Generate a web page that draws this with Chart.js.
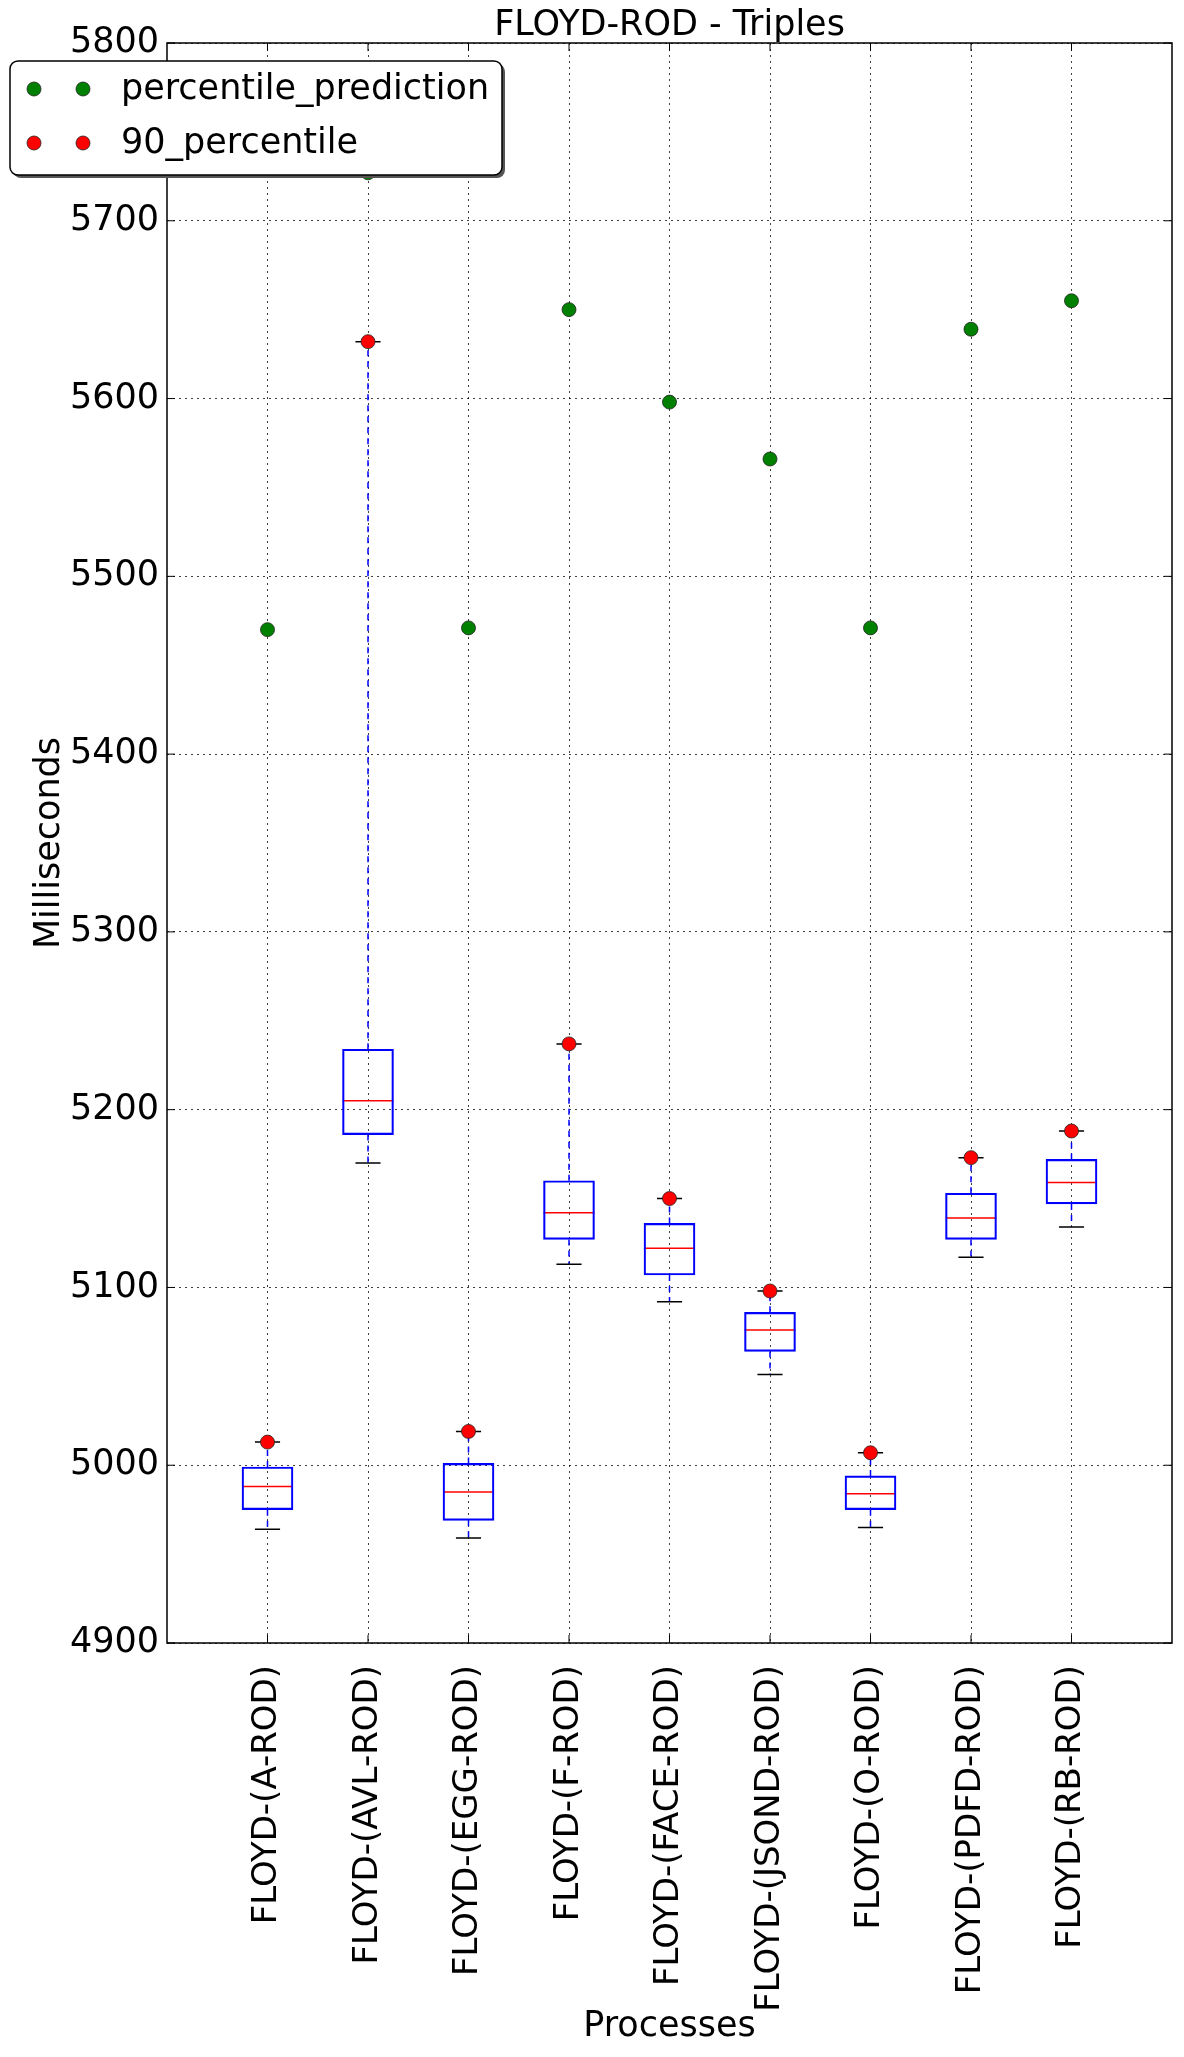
<!DOCTYPE html>
<html>
<head>
<meta charset="utf-8">
<title>FLOYD-ROD - Triples</title>
<script src="https://cdn.jsdelivr.net/npm/chart.js@4.4.1/dist/chart.umd.min.js"></script>
<style>
    html, body { margin: 0; padding: 0; background: #fff; }
    #wrap { width: 1184px; height: 2057px; position: relative; }
</style>
</head>
<body>
<div id="wrap"><canvas id="boxChart"></canvas></div>
<script>
// 数据
const categories = ['FLOYD-(A-ROD)', 'FLOYD-(AVL-ROD)', 'FLOYD-(EGG-ROD)', 'FLOYD-(F-ROD)', 'FLOYD-(FACE-ROD)',
    'FLOYD-(JSOND-ROD)', 'FLOYD-(O-ROD)', 'FLOYD-(PDFD-ROD)', 'FLOYD-(RB-ROD)'];
const prediction = [5470, 5727, 5471, 5650, 5598, 5566, 5471, 5639, 5655];
const percentile90 = [5013, 5632, 5019, 5237, 5150, 5098, 5007, 5173, 5188];
const q3 = [4999, 5234, 5001, 5160, 5136, 5086, 4994, 5153, 5172];
const medians = [4988, 5205, 4985, 5142, 5122, 5076, 4984, 5139, 5159];
const q1 = [4975, 5186, 4969, 5127, 5107, 5064, 4975, 5127, 5147];
const lowerWhisker = [4964, 5170, 4959, 5113, 5092, 5051, 4965, 5117, 5134];
const yTicks = [4900, 5000, 5100, 5200, 5300, 5400, 5500, 5600, 5700, 5800];

const FONT = "'DejaVu Sans', sans-serif";

// 须线、盒帽、中位线
const whiskerPlugin = {
    id: 'whiskers',
    beforeDatasetsDraw(chart) {
        const { ctx, scales: { x, y } } = chart;
        const boxes = chart.getDatasetMeta(2).data;
        ctx.save();
        categories.forEach((c, i) => {
            const px = x.getPixelForValue(i + 1);
            const capHalf = x.getPixelForValue(i + 1.125) - px;
            // dashed whiskers
            ctx.strokeStyle = '#0000ff';
            ctx.lineWidth = 1.5;
            ctx.setLineDash([6, 5]);
            ctx.beginPath();
            ctx.moveTo(px, y.getPixelForValue(q3[i]));
            ctx.lineTo(px, y.getPixelForValue(percentile90[i]));
            ctx.moveTo(px, y.getPixelForValue(q1[i]));
            ctx.lineTo(px, y.getPixelForValue(lowerWhisker[i]));
            ctx.stroke();
            ctx.setLineDash([]);
            // caps
            ctx.strokeStyle = '#000';
            ctx.beginPath();
            [percentile90[i], lowerWhisker[i]].forEach(v => {
                const py = y.getPixelForValue(v);
                ctx.moveTo(px - capHalf, py);
                ctx.lineTo(px + capHalf, py);
            });
            ctx.stroke();
            // median
            const bar = boxes[i];
            const py = y.getPixelForValue(medians[i]);
            ctx.strokeStyle = '#ff0000';
            ctx.beginPath();
            ctx.moveTo(bar.x - bar.width / 2, py);
            ctx.lineTo(bar.x + bar.width / 2, py);
            ctx.stroke();
        });
        ctx.restore();
    },
    afterDatasetsDraw(chart) {
        const { ctx, chartArea: a, scales: { x, y } } = chart;
        ctx.save();
        // inward ticks
        ctx.strokeStyle = '#000';
        ctx.lineWidth = 1;
        ctx.beginPath();
        y.ticks.forEach(t => {
            const py = y.getPixelForValue(t.value);
            ctx.moveTo(a.left, py); ctx.lineTo(a.left + 8, py);
            ctx.moveTo(a.right, py); ctx.lineTo(a.right - 8, py);
        });
        x.ticks.forEach(t => {
            const px = x.getPixelForValue(t.value);
            ctx.moveTo(px, a.bottom); ctx.lineTo(px, a.bottom - 8);
            ctx.moveTo(px, a.top); ctx.lineTo(px, a.top + 8);
        });
        ctx.stroke();
        // frame
        ctx.lineWidth = 1.5;
        ctx.strokeRect(a.left, a.top, a.right - a.left, a.bottom - a.top);
        ctx.restore();
    }
};

// 图例（左上角，压在坐标轴上）
const legendBoxPlugin = {
    id: 'legendBox',
    afterDraw(chart) {
        const { ctx } = chart;
        const items = [
            { text: 'percentile_prediction', color: chart.data.datasets[0].backgroundColor },
            { text: '90_percentile', color: chart.data.datasets[1].backgroundColor }
        ];
        const bx = 10, by = 61, bw = 492, bh = 114, r = 8;
        ctx.save();
        const rr = (ox, oy) => {
            ctx.beginPath();
            ctx.roundRect(bx + ox, by + oy, bw, bh, r);
        };
        rr(3, 3);
        ctx.fillStyle = '#555';
        ctx.fill();
        rr(0, 0);
        ctx.fillStyle = '#fff';
        ctx.fill();
        ctx.strokeStyle = '#000';
        ctx.lineWidth = 1.5;
        ctx.stroke();
        ctx.font = '35px ' + FONT;
        ctx.textBaseline = 'middle';
        items.forEach((it, k) => {
            const cy = by + 28 + k * 54;
            [34, 83].forEach(cx => {
                ctx.beginPath();
                ctx.arc(cx, cy, 7, 0, Math.PI * 2);
                ctx.fillStyle = it.color;
                ctx.fill();
                ctx.strokeStyle = '#222';
                ctx.lineWidth = 0.8;
                ctx.stroke();
            });
            ctx.fillStyle = '#000';
            ctx.fillText(it.text, 121, cy + 1);
        });
        ctx.restore();
    }
};

document.addEventListener('DOMContentLoaded', function() {
    const ctx = document.getElementById('boxChart');
    new Chart(ctx, {
        data: {
            datasets: [{
                type: 'scatter',
                label: 'percentile_prediction',
                data: prediction.map((v, i) => ({ x: i + 1, y: v })),
                backgroundColor: '#008000',
                borderColor: '#222',
                borderWidth: 0.8,
                pointRadius: 7,
                order: 1
            }, {
                type: 'scatter',
                label: '90_percentile',
                data: percentile90.map((v, i) => ({ x: i + 1, y: v })),
                backgroundColor: '#ff0000',
                borderColor: '#222',
                borderWidth: 0.8,
                pointRadius: 7,
                order: 2
            }, {
                type: 'bar',
                label: 'box',
                data: q1.map((v, i) => ({ x: i + 1, y: [v, q3[i]] })),
                backgroundColor: 'rgba(0,0,0,0)',
                borderColor: '#0000ff',
                borderWidth: 1.5,
                borderSkipped: false,
                barThickness: 51,
                order: 3
            }]
        },
        options: {
            responsive: true,
            maintainAspectRatio: false,
            animation: false,
            events: [],
            layout: { padding: { left: 0, right: 12, top: 0, bottom: 0 } },
            plugins: {
                legend: { display: false },
                tooltip: { enabled: false },
                title: {
                    display: true,
                    text: 'FLOYD-ROD - Triples',
                    fullSize: false,
                    color: '#000',
                    font: { family: FONT, size: 35, weight: 'normal', lineHeight: 1.0 },
                    padding: { top: 8, bottom: 0 }
                }
            },
            scales: {
                x: {
                    type: 'linear',
                    min: 0,
                    max: 10,
                    offset: false,
                    afterBuildTicks: scale => {
                        scale.ticks = categories.map((c, i) => ({ value: i + 1 }));
                    },
                    afterFit: scale => { scale.height = 414; },
                    ticks: {
                        autoSkip: false,
                        minRotation: 90,
                        maxRotation: 90,
                        padding: 22,
                        color: '#000',
                        font: { family: FONT, size: 34 },
                        callback: value => categories[value - 1] || ''
                    },
                    grid: { offset: false, color: 'rgba(0,0,0,0.75)', lineWidth: 1, drawTicks: false },
                    border: { display: false, dash: [2, 4] },
                    title: {
                        display: true,
                        text: 'Processes',
                        color: '#000',
                        font: { family: FONT, size: 35, lineHeight: 1.2 },
                        padding: { top: 0, bottom: 9 }
                    }
                },
                y: {
                    min: 4900,
                    max: 5800,
                    afterBuildTicks: scale => {
                        scale.ticks = yTicks.map(v => ({ value: v }));
                    },
                    afterFit: scale => { scale.width = 167; },
                    ticks: {
                        padding: 8,
                        color: '#000',
                        font: { family: FONT, size: 35 },
                        callback: value => String(value)
                    },
                    grid: { color: 'rgba(0,0,0,0.75)', lineWidth: 1, drawTicks: false },
                    border: { display: false, dash: [2, 4] },
                    title: {
                        display: true,
                        text: 'Milliseconds',
                        color: '#000',
                        font: { family: FONT, size: 35, lineHeight: 1.2 },
                        padding: { top: 29, bottom: 0 }
                    }
                }
            }
        },
        plugins: [whiskerPlugin, legendBoxPlugin]
    });
});
</script>
</body>
</html>
